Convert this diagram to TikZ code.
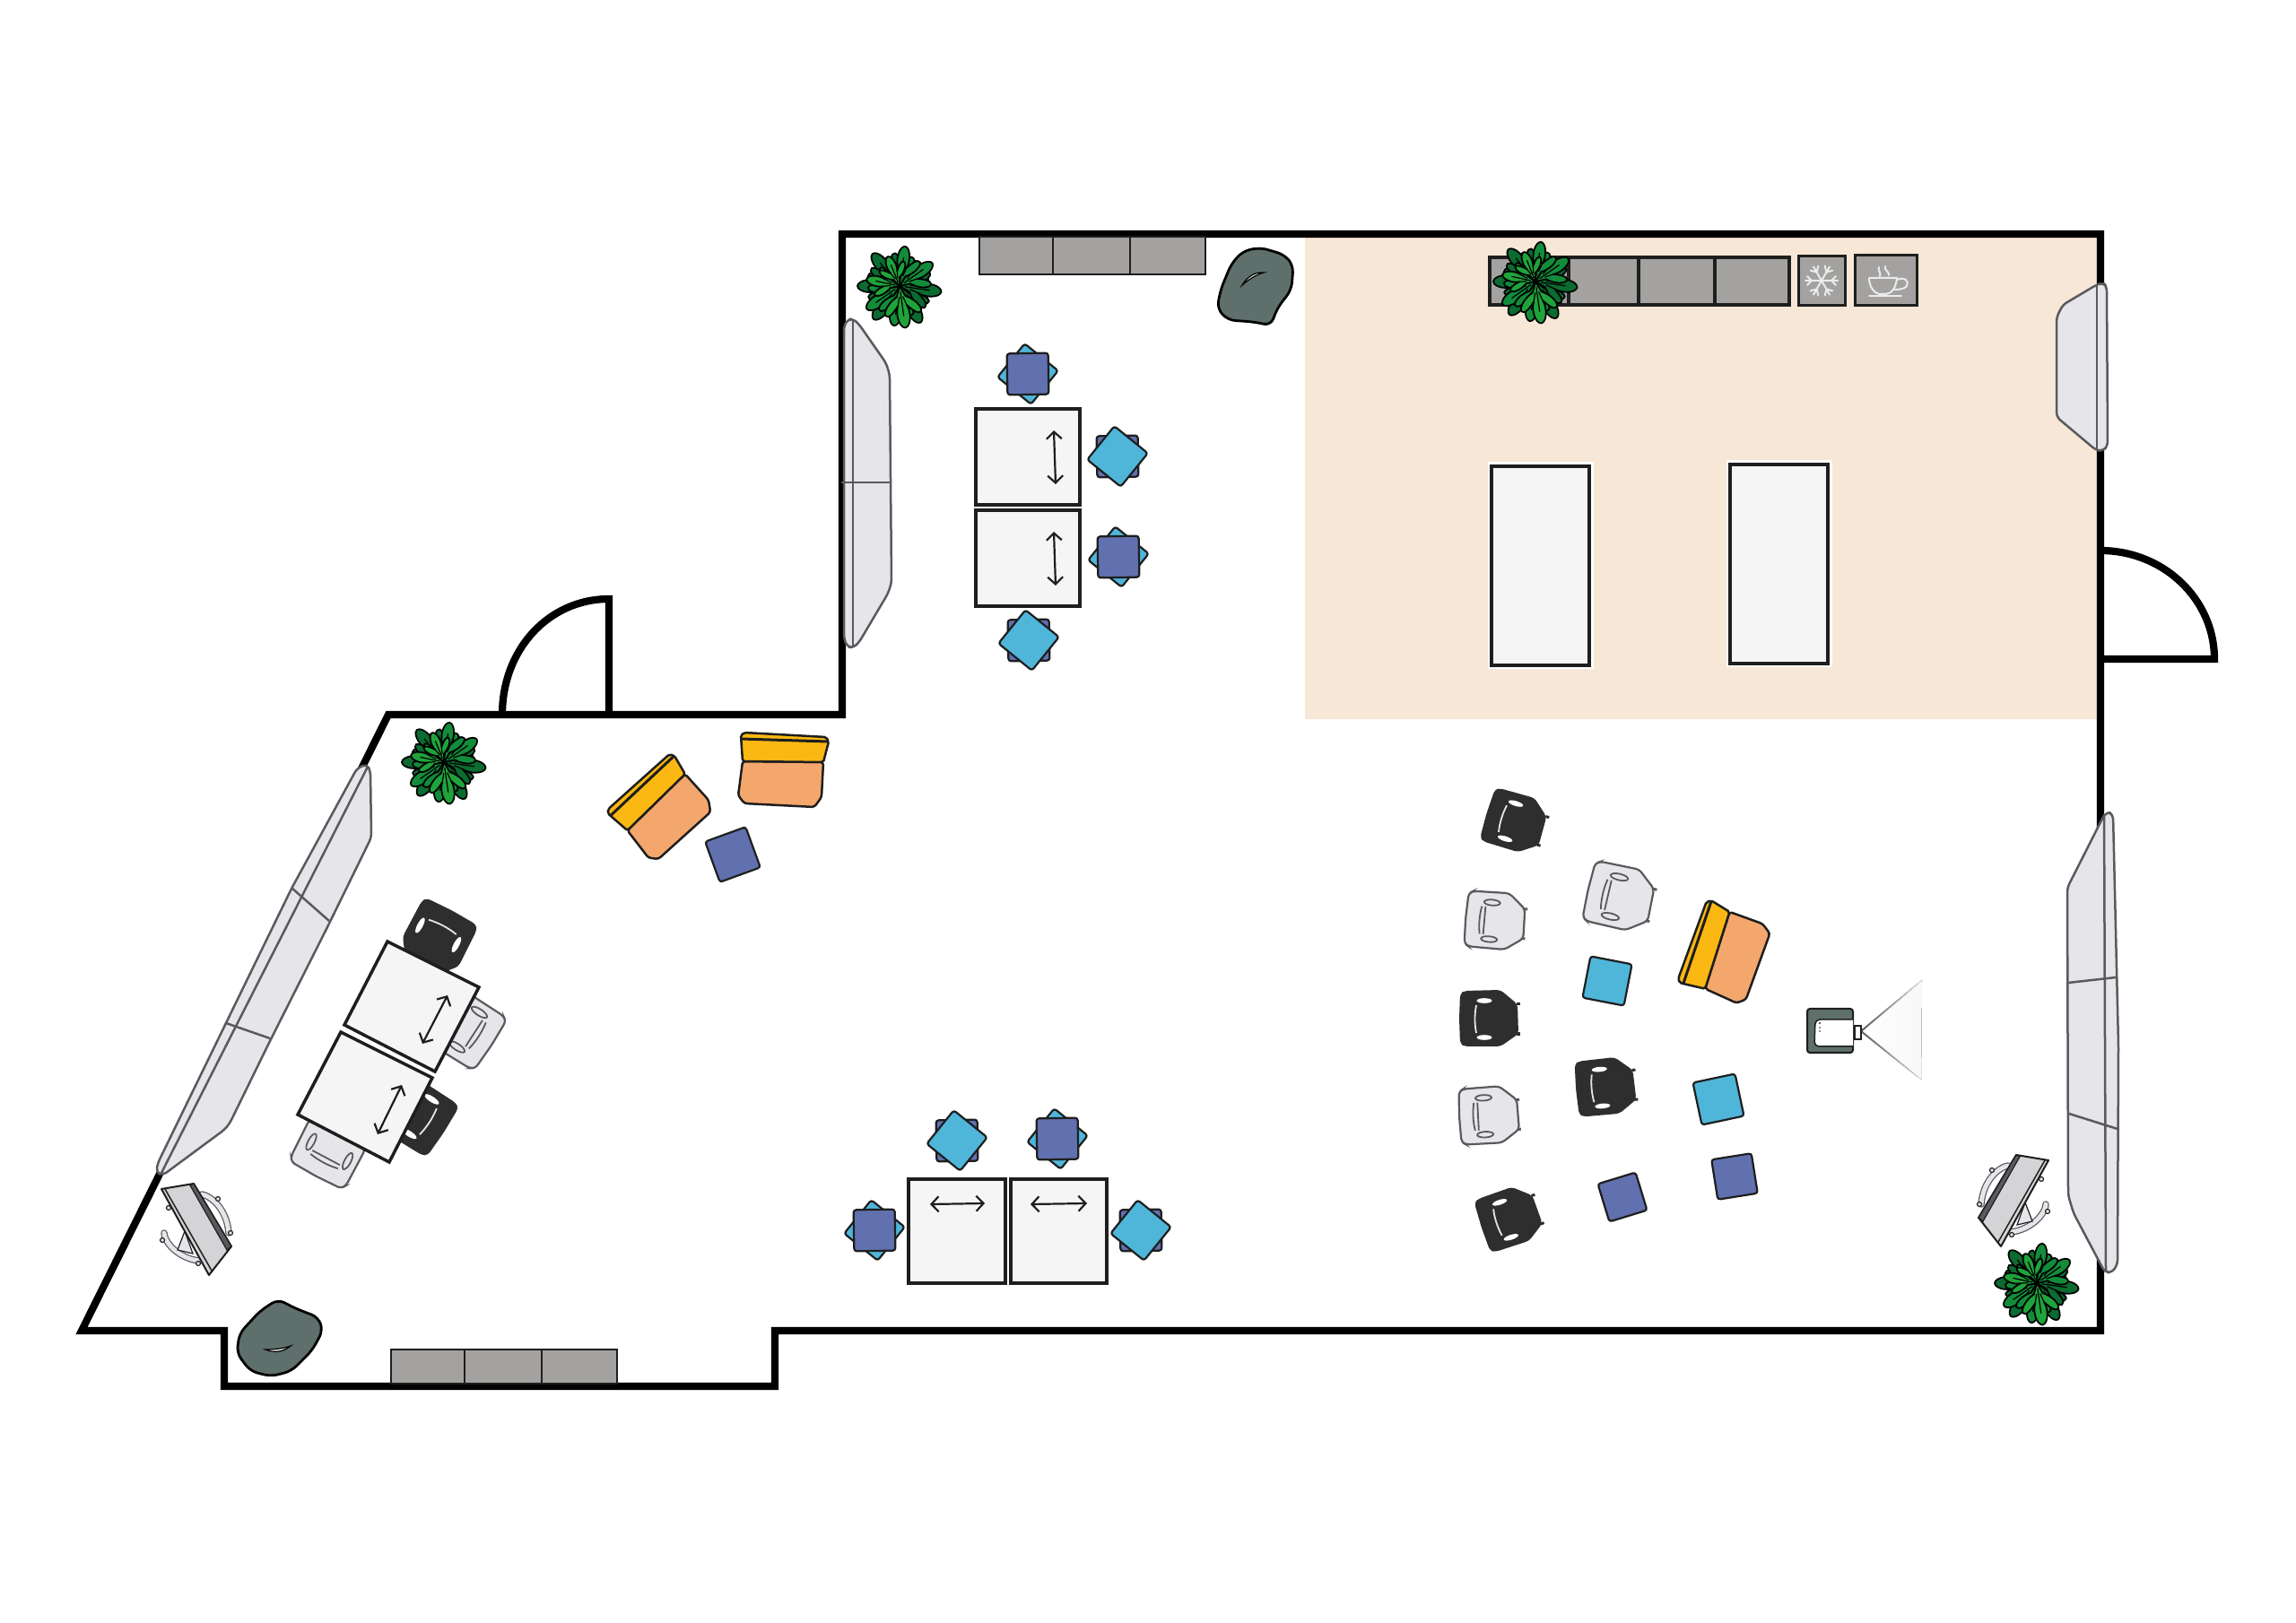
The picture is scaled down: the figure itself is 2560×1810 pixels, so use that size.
\documentclass[tikz,border=0pt]{standalone}
\usepackage{tikz}
\usetikzlibrary{arrows, arrows.meta}
\usetikzlibrary{fadings}
\definecolor{BLACK}{HTML}{000000}
\definecolor{INK}{HTML}{1E1E1E}
\definecolor{FLOOR}{HTML}{F7E7D6}
\definecolor{CABINET}{HTML}{A3A2A0}
\definecolor{DESK}{HTML}{F5F5F5}
\definecolor{PALE}{HTML}{E6E6EA}
\definecolor{EDGE}{HTML}{5A5A5E}
\definecolor{SLATE}{HTML}{5F6F6B}
\definecolor{SKY}{HTML}{4FB6DA}
\definecolor{INDIGO}{HTML}{6170AE}
\definecolor{AMBER}{HTML}{FBB812}
\definecolor{PEACH}{HTML}{F4A76C}
\definecolor{CHARCOAL}{HTML}{2E2E2E}
\definecolor{LEAFA}{HTML}{0B6B30}
\definecolor{LEAFB}{HTML}{128C3A}
\definecolor{LEAFC}{HTML}{1FA33B}
\tikzset{
    wall/.style={BLACK, line width=0.082cm, line join=miter},
    cabinet/.style={draw=INK, fill=CABINET, line width=0.025cm},
    desk/.style={draw=INK, fill=DESK, line width=0.035cm},
    bench/.style={draw=EDGE, fill=PALE, line width=0.025cm, line join=round, rounded corners=0.05cm},
    benchline/.style={EDGE, line width=0.025cm},
    bag/.style={draw=BLACK, fill=SLATE, line width=0.028cm, rounded corners=0.08cm},
    baglight/.style={draw=BLACK, fill=PALE, line width=0.012cm},
    stoolsky/.style={draw=INK, fill=SKY, line width=0.022cm, rectangle, rounded corners=0.03cm, inner sep=0pt, minimum size=0.48cm},
    stoolindigo/.style={draw=INK, fill=INDIGO, line width=0.022cm, rectangle, rounded corners=0.03cm, inner sep=0pt, minimum size=0.46cm},
    deskarrow/.style={INK, line width=0.022cm, <->, >={Straight Barb[length=0.08cm,width=0.17cm]}},
    icon/.style={white!92!black, line width=0.02cm, line cap=round},
    leaf/.pic={
        \draw[pic actions, draw=BLACK, line width=0.018cm, line join=round] (0,0) -- (12,-5)
            .. controls (16,-14) and (26,-22) .. (31,-20)
            .. controls (35,-17) and (28,-10) .. (22,-5)
            .. controls (30,-9) and (46,-7) .. (47,0)
            .. controls (46,7) and (30,9) .. (22,5)
            .. controls (28,10) and (35,17) .. (31,20)
            .. controls (26,22) and (16,14) .. (12,5) -- cycle;
        \draw[BLACK, line width=0.012cm] (6,0) -- (34,0) (12,-2) -- (22,-5) (12,2) -- (22,5);
    },
    plant/.pic={
        \fill[INK] (0,0) circle[radius=0.34cm];
        \foreach \a in {130,180,232,300,352}
            \pic[rotate=\a, fill=LEAFA] {leaf};
        \foreach \a in {35,82,215,262}
            \pic[rotate=\a, scale=0.95, fill=LEAFB] {leaf};
        \foreach \a/\s in {168/0.8,112/0.75,278/1}
            \pic[rotate=\a, scale=\s, fill=LEAFC] {leaf};
    },
    beanbag/.pic={
        \draw[bag] (5,-44) -- (32,-36) -- (42,-24) -- (40,3) -- (24,24) -- (17,43) -- (-2,39)
            -- (-31,37) -- (-43,24) -- (-39,3) -- (-27,-26) -- (-14,-40) -- cycle;
        \draw[baglight] (-15,-2) .. controls (-9,-12) and (0,-17) .. (9,-16)
            .. controls (2,-14) and (-6,-10) .. cycle;
    },
    armchair/.pic={
        \draw[draw=INK, fill=PEACH, line width=0.025cm, rounded corners=0.03cm]
            (-45,-8) -- (45,-7) -- (43,32) -- (35,43) -- (-43,39) -- (-50,30) -- (-49,23) -- cycle;
        \draw[draw=INK, fill=AMBER, line width=0.025cm, rounded corners=0.02cm]
            (-47,-37) -- (-43,-40) -- (48,-35) -- (51,-30) -- (45,-7) -- (-45,-8) -- cycle;
        \draw[INK, line width=0.03cm] (-47,-33) -- (50,-30);
    },
    chairdark/.pic={
        \draw[CHARCOAL, line width=0.03cm] (30,-16) -- (34,-16) (30,17) -- (34,17);
        \fill[CHARCOAL, rounded corners=0.04cm] (-34,0) -- (-33,-28) -- (-28,-31) -- (12,-32) -- (31,-16) -- (32,17)
            -- (12,31) -- (-28,31) -- (-33,28) -- cycle;
        \fill[white] (-6,-20) ellipse[x radius=0.085cm, y radius=0.028cm];
        \fill[white] (-6,21) ellipse[x radius=0.085cm, y radius=0.028cm];
        \draw[PALE, line width=0.018cm] (-15,-15) .. controls (-17,-5) and (-17,6) .. (-15,16);
    },
    chairlight/.pic={
        \draw[EDGE, line width=0.03cm] (30,-16) -- (34,-16) (30,17) -- (34,17);
        \draw[draw=EDGE, fill=PALE, line width=0.022cm, rounded corners=0.04cm] (-34,0) -- (-33,-28) -- (-28,-31) -- (12,-32) -- (31,-16) -- (32,17)
            -- (12,31) -- (-28,31) -- (-33,28) -- cycle;
        \draw[EDGE, line width=0.018cm] (-17,-15) .. controls (-19,-5) and (-19,6) .. (-17,16);
        \draw[EDGE, line width=0.018cm] (-13,-15) -- (-13,16);
        \draw[draw=EDGE, fill=PALE, line width=0.018cm] (-6,-20) ellipse[x radius=0.09cm, y radius=0.032cm];
        \draw[draw=EDGE, fill=PALE, line width=0.018cm] (-6,21) ellipse[x radius=0.09cm, y radius=0.032cm];
    },
    flipchart/.pic={
        \draw[EDGE, line width=0.075cm, line cap=round] (-3,-35) .. controls (-14,-33) and (-31,-18) .. (-33,8);
        \draw[PALE, line width=0.05cm, line cap=round] (-3,-35) .. controls (-14,-33) and (-31,-18) .. (-33,8);
        \draw[EDGE, line width=0.075cm, line cap=round] (39,8) .. controls (38,22) and (18,38) .. (-1,39);
        \draw[PALE, line width=0.05cm, line cap=round] (39,8) .. controls (38,22) and (18,38) .. (-1,39);
        \draw[draw=INK, fill=PALE, line width=0.012cm] (16,6) -- (24,27) -- (7,31) -- cycle;
        \foreach \fx/\fy in {-21/-30,-35/8,41/16,34/-20,1/42}
            \draw[draw=INK, fill=PALE, line width=0.012cm] (\fx,\fy) circle[radius=0.025cm];
        \draw[draw=INK, fill=PALE!92!black, line width=0.02cm, line join=round] (6,-47) -- (42,-41) -- (-11,55) -- (-36,23) -- cycle;
        \draw[INK, line width=0.015cm] (38,-41) -- (-14,50);
        \draw[draw=INK, fill=EDGE, line width=0.012cm] (6,-47) -- (10,-45) -- (-31,27) -- (-36,23) -- cycle;
    }
}

\begin{document}
\begin{tikzpicture}[x=0.01cm, y=-0.01cm]
    \useasboundingbox (0,0) rectangle (2560,1810);
    \fill[white] (0,0) rectangle (2560,1810);
    % floor area
    \fill[FLOOR] (1455,265) rectangle (2338,802);
    % walls and doors
    \draw[wall] (939,261) -- (2342,261) -- (2342,1484) -- (864,1484) -- (864,1546) -- (250,1546) -- (250,1484)
        -- (91,1484) -- (433,797) -- (939,797) -- cycle;
    \draw[wall] (679,797) -- (679,668) .. controls (612,668) and (560,724) .. (560,797);
    \draw[wall] (2342,614) .. controls (2412,614) and (2469,668) .. (2469,735) -- (2342,735);
    % cabinets
    \foreach \xa/\xb in {1092/1174,1174/1260,1260/1344}
        \draw[cabinet] (\xa,264) rectangle (\xb,306);
    \foreach \xa/\xb in {436/518,518/604,604/688}
        \draw[cabinet] (\xa,1505) rectangle (\xb,1543);
    \foreach \xa/\xb in {1661/1749,1749/1827,1827/1912,1912/1995}
        \draw[cabinet, line width=0.035cm] (\xa,287) rectangle (\xb,340);
    \draw[cabinet, line width=0.03cm] (2005,286) rectangle (2057,341);
    \draw[cabinet, line width=0.03cm] (2068,285) rectangle (2137,341);
    % snowflake
    \foreach \a in {0,60,...,300} {
        \draw[icon, shift={(2031,313)}, rotate=\a] (0,0) -- (18,0) (11,0) -- (16,-5) (11,0) -- (16,5);
    }
    % coffee cup
    \draw[icon] (2084,310) -- (2115,310) .. controls (2114,320) and (2110,327) .. (2103,328) -- (2095,328)
        .. controls (2088,326) and (2084,318) .. (2084,310);
    \draw[icon] (2115,312) .. controls (2124,308) and (2129,314) .. (2126,319) .. controls (2124,322) and (2118,323) .. (2112,323);
    \draw[icon] (2084,330) -- (2120,330);
    \draw[icon] (2095,298) .. controls (2093,302) and (2098,304) .. (2096,308);
    \draw[icon] (2102,297) .. controls (2100,301) and (2107,303) .. (2106,307);
    % wall benches
    \draw[bench] (941,364) -- (945,356) -- (952,356) -- (958,362) -- (988,405) -- (992,418) -- (994,650) -- (990,662)
        -- (958,716) -- (952,722) -- (945,722) -- (941,712) -- cycle;
    \draw[benchline] (951,356) -- (951,722) (938,538) -- (992,538);
    \draw[bench] (2293,354) -- (2300,340) -- (2337,318) -- (2345,315) -- (2349,320) -- (2350,497) -- (2345,503)
        -- (2337,502) -- (2293,465) -- cycle;
    \draw[benchline] (2338,318) -- (2338,502);
    \draw[bench] (2305,990) -- (2344,913) -- (2349,905) -- (2356,908) -- (2362,1166) -- (2361,1410)
        -- (2355,1419) -- (2347,1419) -- (2312,1353) -- (2306,1333) -- cycle;
    \draw[benchline] (2346,908) -- (2348,1419) (2306,1096) -- (2359,1090) (2307,1242) -- (2361,1259);
    \draw[bench] (398,857) -- (409,852) -- (413,860) -- (414,934) -- (365,1034) -- (300,1163) -- (256,1253) -- (250,1260)
        -- (181,1311) -- (174,1307) -- (176,1297) -- (325,991) -- cycle;
    \draw[benchline] (410,855) -- (179,1310) (325,990) -- (367,1027) (252,1141) -- (301,1158);
    % white tables
    \draw[desk, preaction={draw=white, line width=0.09cm}] (1663,520) rectangle (1772,742);
    \draw[desk, preaction={draw=white, line width=0.09cm}] (1929,518) rectangle (2038,740);
    % stools, blue on top
    \foreach \n/\cx/\cy in {a/1146/417,b/1247/621,c/1179/1270,d/975/1372} {
        \node[stoolsky, rotate=51] (under\n) at (\cx,\cy) {};
        \node[stoolindigo, rotate=1] (over\n) at (\cx,\cy) {};
    }
    % stools, sky on top
    \foreach \n/\cx/\cy in {e/1246/509,f/1147/714,g/1067/1272,h/1272/1372} {
        \node[stoolindigo, rotate=1] (under\n) at (\cx,\cy) {};
        \node[stoolsky, rotate=51] (over\n) at (\cx,\cy) {};
    }
    % upper and lower desks
    \draw[desk] (1088,456) rectangle (1204,563);
    \draw[desk] (1088,569) rectangle (1204,676);
    \draw[deskarrow] (1175,480) -- (1177,540);
    \draw[deskarrow] (1175,593) -- (1177,653);
    \draw[desk] (1013,1315) rectangle (1121,1431);
    \draw[desk] (1127,1315) rectangle (1234,1431);
    \draw[deskarrow] (1037,1343) -- (1098,1342);
    \draw[deskarrow] (1149,1343) -- (1212,1342);
    % slanted desks
    \pic[rotate=-118, scale=1.12] at (486,1049) {chairdark};
    \pic[rotate=147, scale=1.12] at (516,1145) {chairlight};
    \pic[rotate=147, scale=1.12] at (463,1242) {chairdark};
    \pic[rotate=62, scale=1.12] at (370,1278) {chairlight};
    \draw[desk] (432,1050) -- (534,1101) -- (485,1195) -- (384,1143) -- cycle;
    \draw[desk] (380,1151) -- (482,1202) -- (434,1296) -- (332,1243) -- cycle;
    \draw[deskarrow] (499,1110) -- (471,1164);
    \draw[deskarrow] (448,1210) -- (421,1265);
    % seating
    \pic at (873,857) {armchair};
    \pic[rotate=45] at (737,900) {armchair};
    \node[stoolindigo, rotate=20, minimum size=0.48cm] (stoolnear) at (817,953) {};
    \pic[rotate=73] at (1922,1062) {armchair};
    \pic[rotate=-17] at (1690,917) {chairdark};
    \pic[rotate=-5] at (1668,1027) {chairlight};
    \pic[rotate=-13, scale=1.1] at (1807,1001) {chairlight};
    \pic at (1661,1136) {chairdark};
    \pic[rotate=5] at (1791,1212) {chairdark};
    \pic[rotate=3] at (1661,1244) {chairlight};
    \pic[rotate=18] at (1684,1358) {chairdark};
    \node[stoolsky, rotate=-11, minimum size=0.47cm] (stoolk) at (1792,1094) {};
    \node[stoolsky, rotate=12, minimum size=0.48cm] (stooll) at (1916,1226) {};
    \node[stoolindigo, rotate=17, minimum size=0.44cm] (stoolm) at (1809,1335) {};
    \node[stoolindigo, rotate=9, minimum size=0.45cm] (stooln) at (1934,1312) {};
    % projector
    \fill[left color=white, right color=black!3] (2075,1150) -- (2143,1093) -- (2142,1204) -- cycle;
    \draw[EDGE, line width=0.02cm, path fading=east] (2075,1150) -- (2143,1093);
    \draw[EDGE, line width=0.02cm, path fading=east] (2075,1150) -- (2142,1204);
    \draw[draw=INK, fill=SLATE, line width=0.02cm, rounded corners=0.03cm] (2015,1125) rectangle (2066,1174);
    \draw[draw=INK, fill=white, line width=0.015cm, rounded corners=0.05cm] (2066,1137) -- (2024,1137) -- (2023,1167) -- (2066,1167);
    \fill[INK] (2029,1141) circle[radius=0.012cm] (2029,1146) circle[radius=0.008cm] (2029,1150) circle[radius=0.008cm];
    \draw[draw=INK, fill=white, line width=0.015cm] (2068,1144) rectangle (2075,1159);
    % flip charts
    \pic at (2242,1335) {flipchart};
    \pic[xscale=-1] at (222,1367) {flipchart};
    % bean bags
    \pic at (1400,320) {beanbag};
    \draw[bag] (310,1449) -- (329,1459) -- (355,1469) -- (360,1484) -- (348,1506) -- (325,1529) -- (302,1535)
        -- (279,1529) -- (264,1509) -- (267,1487) -- (290,1462) -- cycle;
    \draw[baglight] (296,1505) .. controls (305,1509) and (316,1508) .. (324,1501) .. controls (316,1504) and (305,1505) .. cycle;
    % plants
    \pic at (1003,319) {plant};
    \pic at (495,850) {plant};
    \pic at (2271,1431) {plant};
    \pic[rotate=85, scale=0.92] at (1712,314) {plant};
\end{tikzpicture}
\end{document}
